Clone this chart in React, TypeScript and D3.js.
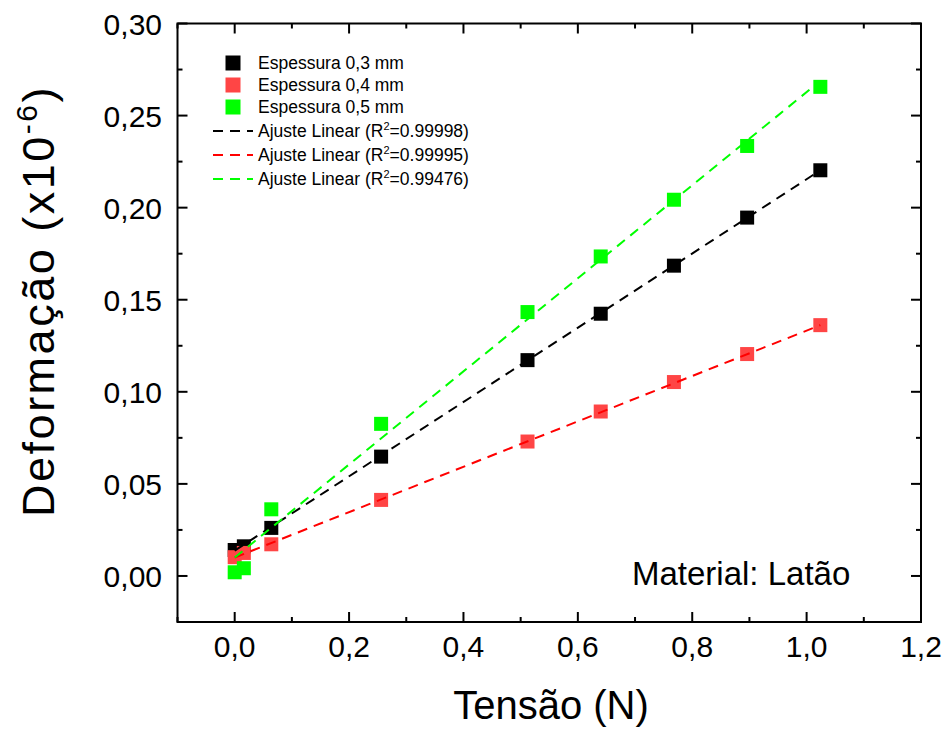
import React from "react";
import * as d3 from "d3";

const tension = [0, 0.016, 0.064, 0.256, 0.512, 0.64, 0.768, 0.896, 1.024];
const esp03 = [0.0141, 0.0161, 0.0261, 0.0648, 0.1172, 0.1424, 0.1685, 0.1946, 0.2203];
const esp04 = [0.0102, 0.0125, 0.0172, 0.0413, 0.0730, 0.0893, 0.1053, 0.1205, 0.1362];
const esp05 = [0.0020, 0.0042, 0.0362, 0.0826, 0.1433, 0.1735, 0.2043, 0.2335, 0.2656];

const fitX = [0, 1.024];
const fit03 = [0.0138, 0.2203];
const fit04 = [0.0100, 0.1362];
const fit05 = [0.0100, 0.2688];

const xTicks = [0, 0.2, 0.4, 0.6, 0.8, 1.0, 1.2];
const xMinor = [-0.1, 0.1, 0.3, 0.5, 0.7, 0.9, 1.1];
const yTicks = [0, 0.05, 0.1, 0.15, 0.2, 0.25, 0.3];
const yMinor = [-0.025, 0.025, 0.075, 0.125, 0.175, 0.225, 0.275];

const seriesNames = ["Espessura 0,3 mm", "Espessura 0,4 mm", "Espessura 0,5 mm"];
const fitR2 = ["0.99998", "0.99995", "0.99476"];
const markerColors = ["#000000", "#ff4545", "#00ff00"];
const lineColors = ["#000000", "#ff0000", "#00ff00"];

const FONT = "Arial, 'Liberation Sans', sans-serif";

export default function App() {
  const left = 177.5, right = 921, top = 23.5, bottom = 622;
  const x = d3.scaleLinear().domain([-0.1, 1.2]).range([left, right]);
  const y = d3.scaleLinear().domain([-0.025, 0.3]).range([bottom, top]);
  const fmt = (v: number, d: number) => v.toFixed(d).replace(".", ",");
  const seriesY = [esp03, esp04, esp05];
  const fits = [fit03, fit04, fit05];
  const line = d3.line<[number, number]>().x(d => x(d[0])).y(d => y(d[1]));
  const ms = 14;
  const major = 10, minor = 5;

  return (
    <svg width={948} height={729} style={{ position: "absolute", left: 0, top: 0, background: "#fff" }} fontFamily={FONT}>
      <rect x={0} y={0} width={948} height={729} fill="#fff" />
      {seriesY.map((vals, si) => (
        <g key={"s" + si} fill={markerColors[si]}>
          {tension.map((t, i) => (
            <rect key={i} x={x(t) - ms / 2} y={y(vals[i]) - ms / 2} width={ms} height={ms} />
          ))}
        </g>
      ))}
      {fits.map((f, si) => (
        <path key={"f" + si} d={line(fitX.map((fx, i) => [fx, f[i]] as [number, number])) || ""}
          fill="none" stroke={lineColors[si]} strokeWidth={2} strokeDasharray="10,7" />
      ))}
      <rect x={left} y={top} width={right - left} height={bottom - top} fill="none" stroke="#000" strokeWidth={2} />
      {xTicks.map((t, i) => (
        <g key={"xt" + i}>
          <line x1={x(t)} x2={x(t)} y1={bottom} y2={bottom - major} stroke="#000" strokeWidth={2} />
          <line x1={x(t)} x2={x(t)} y1={top} y2={top + major} stroke="#000" strokeWidth={2} />
          <text x={x(t)} y={657} textAnchor="middle" fontSize={30}>{fmt(t, 1)}</text>
        </g>
      ))}
      {xMinor.map((t, i) => (
        <g key={"xm" + i}>
          <line x1={x(t)} x2={x(t)} y1={bottom} y2={bottom - minor} stroke="#000" strokeWidth={2} />
          <line x1={x(t)} x2={x(t)} y1={top} y2={top + minor} stroke="#000" strokeWidth={2} />
        </g>
      ))}
      {yTicks.map((t, i) => (
        <g key={"yt" + i}>
          <line x1={left} x2={left + major} y1={y(t)} y2={y(t)} stroke="#000" strokeWidth={2} />
          <line x1={right} x2={right - major} y1={y(t)} y2={y(t)} stroke="#000" strokeWidth={2} />
          <text x={162} y={y(t) + 11} textAnchor="end" fontSize={30}>{fmt(t, 2)}</text>
        </g>
      ))}
      {yMinor.map((t, i) => (
        <g key={"ym" + i}>
          <line x1={left} x2={left + minor} y1={y(t)} y2={y(t)} stroke="#000" strokeWidth={2} />
          <line x1={right} x2={right - minor} y1={y(t)} y2={y(t)} stroke="#000" strokeWidth={2} />
        </g>
      ))}
      <text x={551} y={719} textAnchor="middle" fontSize={40}>Tensão (N)</text>
      <text transform="translate(54,301) rotate(-90)" textAnchor="middle" fontSize={45} letterSpacing={2.5}>
        Deformação (x10<tspan fontSize={30} dy={-17}>-6</tspan><tspan dy={17}>)</tspan>
      </text>
      <text x={632} y={585} fontSize={33}>Material: Latão</text>
      {seriesNames.map((n, i) => (
        <g key={"l" + i}>
          <rect x={233 - 7.5} y={63 + i * 22 - 7.5} width={15} height={15} fill={markerColors[i]} />
          <text x={258} y={63 + i * 22 + 6} fontSize={17.5}>{n}</text>
        </g>
      ))}
      {fitR2.map((r, i) => (
        <g key={"lf" + i}>
          <line x1={213} x2={253} y1={131 + i * 24} y2={131 + i * 24} stroke={lineColors[i]} strokeWidth={2} strokeDasharray="10,7" />
          <text x={258} y={131 + i * 24 + 6} fontSize={17.5}>
            Ajuste Linear (R<tspan fontSize={11} dy={-7}>2</tspan><tspan dy={7}>={r})</tspan>
          </text>
        </g>
      ))}
    </svg>
  );
}
